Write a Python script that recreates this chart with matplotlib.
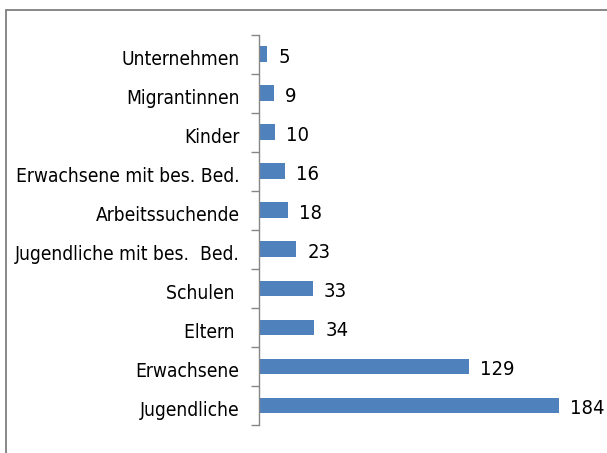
import matplotlib
matplotlib.use("Agg")
import matplotlib.pyplot as plt
from matplotlib.patches import Rectangle
from matplotlib.transforms import ScaledTranslation
import numpy as np

categories = ["Jugendliche", "Erwachsene", "Eltern ", "Schulen ", "Jugendliche mit bes.  Bed.",
              "Arbeitssuchende", "Erwachsene mit bes. Bed.", "Kinder", "Migrantinnen", "Unternehmen"]
values = [184, 129, 34, 33, 23, 18, 16, 10, 9, 5]

plt.rcParams['font.family'] = ['DejaVu Sans']
plt.rcParams['font.stretch'] = 'condensed'

W, H = 607, 453
fig = plt.figure(figsize=(W / 100, H / 100), dpi=100)
fig.patches.append(Rectangle((6 / W, -0.1), 1.2, 1 - 10 / H + 0.1, transform=fig.transFigure,
                             fill=False, edgecolor="#7f7f7f", linewidth=1.3))

ax = fig.add_axes([259 / W, 1 - 425 / H, (600 - 259) / W, (425 - 34.5) / H])
y = np.arange(len(categories))
ax.barh(y, values, height=0.4, color="#4f81bd")
ax.set_ylim(-0.5, len(categories) - 0.5)
ax.set_xlim(0, 341 / 1.63)

for spine in ["top", "right", "bottom"]:
    ax.spines[spine].set_visible(False)
ax.spines["left"].set_color("#868686")
ax.spines["left"].set_linewidth(1.0)
ax.set_xticks([])
ax.set_yticks(y)
ax.set_yticklabels(categories, fontsize=13.8)
ax.tick_params(axis="y", which="major", length=0, pad=14)
ax.set_yticks(np.arange(-0.5, len(categories), 1), minor=True)
ax.tick_params(axis="y", which="minor", length=6, color="#868686", width=1.0)

shift = ScaledTranslation(0, -0.035, fig.dpi_scale_trans)
for lbl in ax.get_yticklabels():
    lbl.set_transform(lbl.get_transform() + shift)

for yi, v in zip(y, values):
    ax.annotate(str(v), (v, yi), xytext=(8, -2.5), textcoords="offset points",
                va="center", ha="left", fontsize=14.5)

fig.savefig("out.png", dpi=100)
